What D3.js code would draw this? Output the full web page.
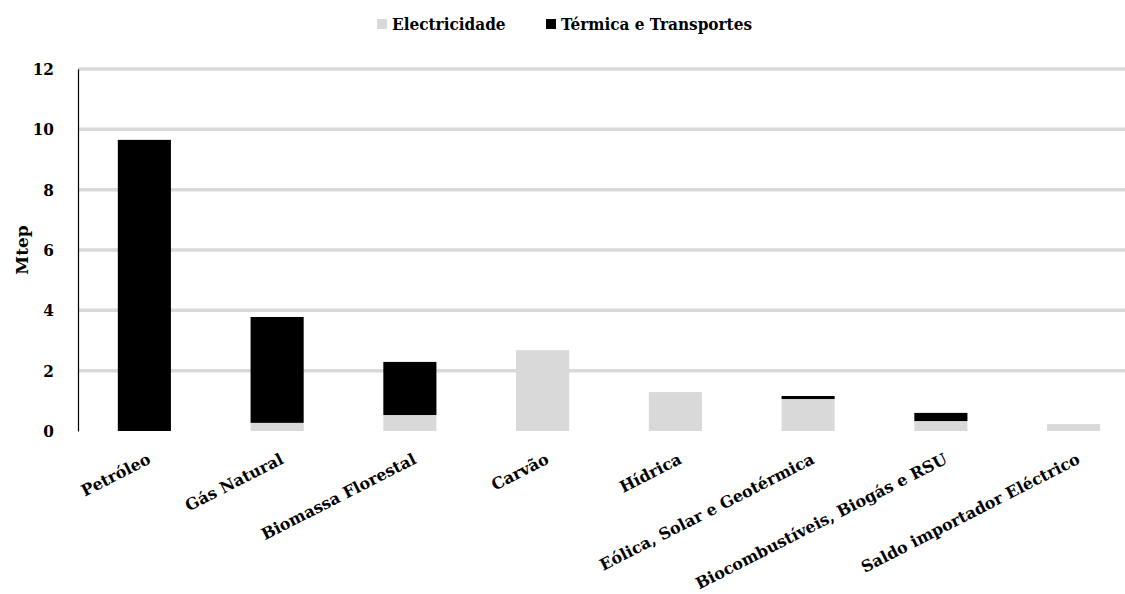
<!DOCTYPE html>
<html>
<head>
<meta charset="utf-8">
<script src="https://cdn.jsdelivr.net/npm/d3@7"></script>
<style>
  html, body { margin: 0; padding: 0; background: #fff; }
  svg { display: block; }
  text { font-family: "DejaVu Serif", serif; font-weight: bold; fill: #000; }
</style>
</head>
<body>
<svg id="chart" width="1125" height="594"></svg>
<script>
// Energy sources (Mtep), split between electricity and thermal/transport use
const categories = [
  "Petróleo", "Gás Natural", "Biomassa Florestal", "Carvão", "Hídrica",
  "Eólica, Solar e Geotérmica", "Biocombustíveis, Biogás e RSU", "Saldo importador Eléctrico"
];
const electricidade = [0, 0.27, 0.53, 2.68, 1.29, 1.06, 0.33, 0.23];
const termicaTransportes = [9.65, 3.51, 1.76, 0, 0, 0.10, 0.27, 0];
const seriesNames = ["Electricidade", "Térmica e Transportes"];
const seriesColors = ["#d9d9d9", "#000000"];
const yTicks = [0, 2, 4, 6, 8, 10, 12];

const svg = d3.select("#chart");
const margin = { left: 78, right: -15, top: 69, bottom: 163 };
const W = 1125, H = 594;

const x = d3.scaleBand()
  .domain(categories)
  .range([margin.left, W - margin.right])
  .paddingInner(0.6)
  .paddingOuter(0.3);

const y = d3.scaleLinear()
  .domain([0, 12])
  .range([H - margin.bottom, margin.top]);

// horizontal gridlines
svg.append("g")
  .selectAll("line")
  .data(yTicks.filter(d => d > 0))
  .join("line")
  .attr("x1", margin.left)
  .attr("x2", W - margin.right)
  .attr("y1", d => y(d))
  .attr("y2", d => y(d))
  .attr("stroke", "#d9d9d9")
  .attr("stroke-width", 3.5);

// stacked bars
const rows = categories.map((c, i) => ({
  cat: c,
  [seriesNames[0]]: electricidade[i],
  [seriesNames[1]]: termicaTransportes[i]
}));
const stacked = d3.stack().keys(seriesNames)(rows);

svg.append("g")
  .selectAll("g")
  .data(stacked)
  .join("g")
  .attr("fill", (d, i) => seriesColors[i])
  .selectAll("rect")
  .data(d => d)
  .join("rect")
  .attr("x", d => x(d.data.cat))
  .attr("width", x.bandwidth())
  .attr("y", d => y(d[1]))
  .attr("height", d => y(d[0]) - y(d[1]));

// y axis
const yAxis = svg.append("g")
  .attr("transform", `translate(${margin.left},0)`)
  .call(d3.axisLeft(y).tickValues(yTicks).tickSize(0).tickPadding(24));
yAxis.select(".domain").attr("stroke", "#000").attr("stroke-width", 1.2);
yAxis.selectAll("text")
  .attr("font-size", 17)
  .style("font-family", "\"DejaVu Serif Condensed\", \"DejaVu Serif\", serif")
  .style("font-weight", "bold");

// y axis title
svg.append("text")
  .attr("transform", `translate(22,${(y(0) + y(12)) / 2}) rotate(-90)`)
  .attr("text-anchor", "middle")
  .attr("dy", "0.35em")
  .attr("font-size", 17)
  .text("Mtep");

// category labels
svg.append("g")
  .selectAll("text")
  .data(categories)
  .join("text")
  .attr("text-anchor", "end")
  .attr("font-size", 16)
  .attr("transform", d => `translate(${x(d) + x.bandwidth() / 2 + 2},${y(0) + 21}) rotate(-27)`)
  .attr("dy", "0.75em")
  .text(d => d);

// legend
const legend = svg.append("g").attr("transform", "translate(0,24)");
const legendX = [377, 546];
seriesNames.forEach((name, i) => {
  legend.append("rect")
    .attr("x", legendX[i])
    .attr("y", -5)
    .attr("width", 10)
    .attr("height", 10)
    .attr("fill", seriesColors[i]);
  legend.append("text")
    .attr("x", legendX[i] + 15)
    .attr("y", 0)
    .attr("dy", "0.35em")
    .attr("font-size", 17)
    .style("font-family", "\"DejaVu Serif Condensed\", \"DejaVu Serif\", serif")
    .text(name);
});
</script>
</body>
</html>
